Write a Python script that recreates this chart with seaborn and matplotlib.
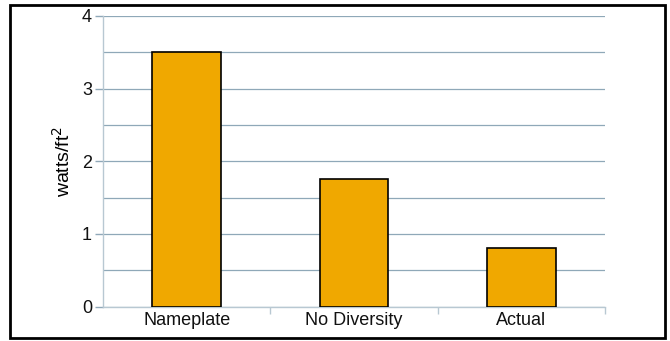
import matplotlib
matplotlib.use("Agg")
import matplotlib.pyplot as plt
import seaborn as sns
import pandas as pd
from matplotlib.patches import Rectangle
from matplotlib.ticker import MultipleLocator

categories = ["Nameplate", "No Diversity", "Actual"]
values = [3.5, 1.75, 0.8]

sns.set_theme(style="white")
plt.rcParams['font.family'] = ['Liberation Sans', 'DejaVu Sans']
plt.rcParams['text.color'] = 'black'
plt.rcParams['axes.labelcolor'] = 'black'
plt.rcParams['xtick.labelcolor'] = '#111111'
plt.rcParams['ytick.labelcolor'] = '#111111'

df = pd.DataFrame({"cat": categories, "val": values})

W, H = 670, 341
fig = plt.figure(figsize=(W/100, H/100), dpi=100)
ax = fig.add_axes([103/W, 1-306.5/H, (605-103)/W, (306.5-16)/H])

grid_c = "#8FA8B8"
ax.set_ylim(0, 4)
ax.yaxis.set_major_locator(MultipleLocator(1))
ax.yaxis.set_minor_locator(MultipleLocator(0.5))
ax.grid(True, which="both", axis="y", color=grid_c, linewidth=0.9, zorder=0)
ax.set_axisbelow(True)

sns.barplot(data=df, x="cat", y="val", color="#F0A800", saturation=1,
            width=0.41, edgecolor="black", linewidth=1.2, ax=ax, zorder=3)

ax.set_xlim(-0.5, 2.5)
ax.set_xlabel("")
ax.set_ylabel("watts/ft$^2$", fontsize=14, labelpad=6)

for s in ["top", "right"]:
    ax.spines[s].set_visible(False)
for s in ["left", "bottom"]:
    ax.spines[s].set_color("#B8C8D2")
    ax.spines[s].set_linewidth(1.0)

ax.tick_params(axis="y", which="major", length=6, width=1, color=grid_c,
               labelsize=13, left=True, pad=2)
ax.tick_params(axis="y", which="minor", length=0)
ax.set_xticks([0, 1, 2])
ax.set_xticks([0.5, 1.5, 2.5], minor=True)
ax.tick_params(axis="x", which="major", length=0, labelsize=13, pad=4)
ax.tick_params(axis="x", which="minor", length=5, width=1, color="#B8C8D2", bottom=True)

fig.patches.append(Rectangle((10/W, 1-338/H), (665-10)/W, (338-5)/H,
                             transform=fig.transFigure, fill=False,
                             edgecolor="black", linewidth=2))

fig.savefig("out.png", dpi=100)
